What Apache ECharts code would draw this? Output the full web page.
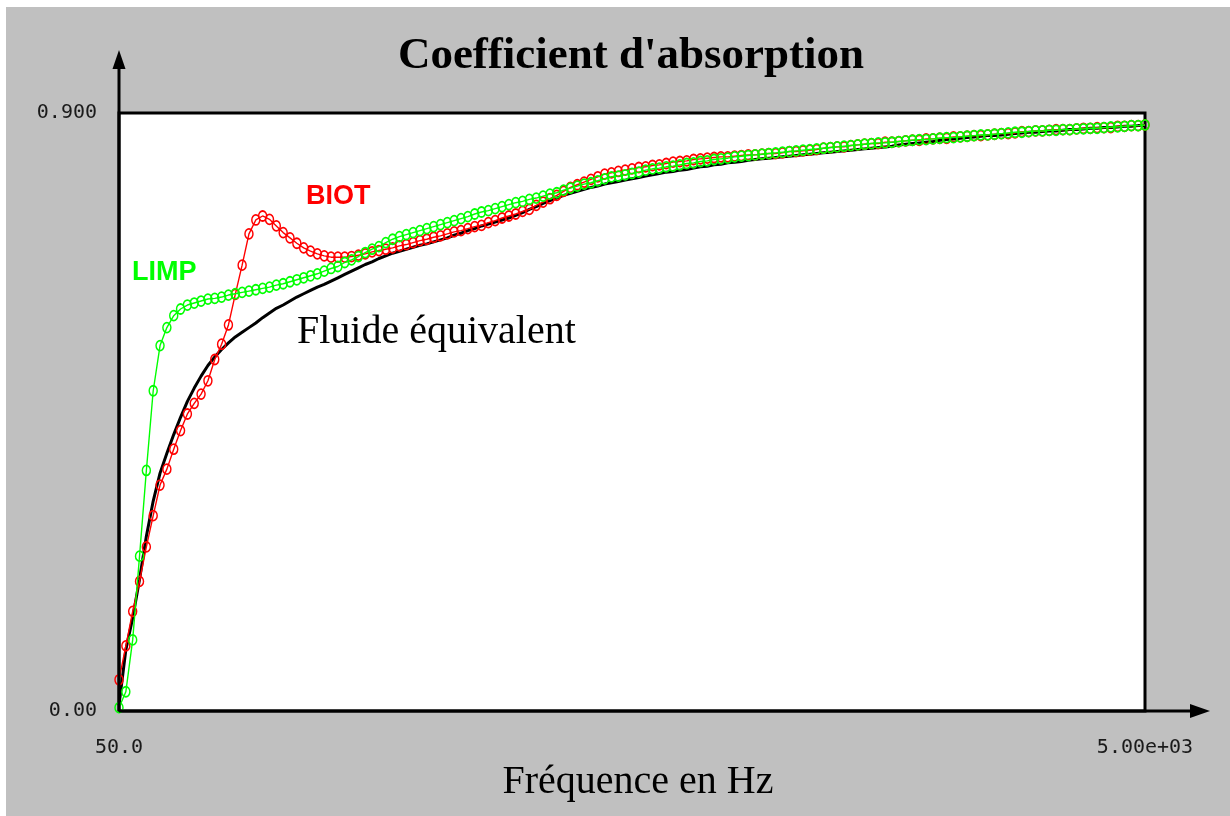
<!DOCTYPE html>
<html>
<head>
<meta charset="utf-8">
<title>Coefficient d'absorption</title>
<script src="https://cdn.jsdelivr.net/npm/echarts@6.0.0/dist/echarts.min.js"></script>
<style>
  html, body { margin: 0; padding: 0; background: #fff; }
  #chart { width: 1230px; height: 816px; }
</style>
</head>
<body>
<div id="chart"></div>
<script>
// frequency sampling of the curves (Hz)
const freqStart = 50;
const freqStep = 33;

const xTickValues = [50, 5000];
const xTickLabels = ['50.0', '5.00e+03'];
const yTickValues = [0, 0.9];
const yTickLabels = ['0.00', '0.900'];

// Fluide équivalent (black)
const fluide = [
  0.009, 0.092, 0.140, 0.198, 0.263, 0.316, 0.358, 0.388, 0.416, 0.442,
  0.466, 0.486, 0.504, 0.520, 0.533, 0.544, 0.554, 0.563, 0.570, 0.577,
  0.584, 0.592, 0.599, 0.606, 0.611, 0.617, 0.623, 0.628, 0.633, 0.638,
  0.642, 0.647, 0.652, 0.657, 0.662, 0.667, 0.672, 0.676, 0.681, 0.685,
  0.689, 0.692, 0.695, 0.698, 0.701, 0.703, 0.706, 0.709, 0.712, 0.716,
  0.719, 0.723, 0.726, 0.730, 0.733, 0.736, 0.739, 0.742, 0.746, 0.750,
  0.755, 0.759, 0.764, 0.768, 0.772, 0.776, 0.779, 0.782, 0.785, 0.788,
  0.790, 0.793, 0.795, 0.797, 0.799, 0.801, 0.803, 0.805, 0.807, 0.809,
  0.811, 0.812, 0.814, 0.815, 0.817, 0.819, 0.820, 0.822, 0.823, 0.825,
  0.826, 0.827, 0.829, 0.830, 0.831, 0.832, 0.833, 0.834, 0.835, 0.836,
  0.837, 0.838, 0.839, 0.840, 0.841, 0.842, 0.843, 0.844, 0.845, 0.846,
  0.847, 0.848, 0.849, 0.850, 0.852, 0.853, 0.854, 0.855, 0.856, 0.857,
  0.859, 0.860, 0.861, 0.862, 0.863, 0.864, 0.865, 0.866, 0.866, 0.867,
  0.868, 0.869, 0.870, 0.871, 0.871, 0.872, 0.873, 0.873, 0.874, 0.875,
  0.875, 0.876, 0.877, 0.877, 0.878, 0.878, 0.879, 0.880, 0.880, 0.881,
  0.881
];

// BIOT (red)
const biot = [
  0.047, 0.098, 0.150, 0.195, 0.247, 0.294, 0.340, 0.364, 0.394, 0.422,
  0.447, 0.463, 0.477, 0.497, 0.529, 0.552, 0.581, 0.627, 0.671, 0.718,
  0.739, 0.745, 0.740, 0.730, 0.720, 0.712, 0.704, 0.697, 0.692, 0.688,
  0.685, 0.683, 0.683, 0.683, 0.684, 0.686, 0.688, 0.691, 0.693, 0.695,
  0.697, 0.700, 0.702, 0.705, 0.708, 0.710, 0.713, 0.715, 0.718, 0.721,
  0.723, 0.726, 0.729, 0.731, 0.735, 0.738, 0.742, 0.745, 0.748, 0.752,
  0.755, 0.761, 0.766, 0.771, 0.776, 0.782, 0.788, 0.792, 0.796, 0.800,
  0.804, 0.808, 0.810, 0.812, 0.814, 0.816, 0.818, 0.819, 0.821, 0.822,
  0.824, 0.826, 0.827, 0.828, 0.830, 0.831, 0.832, 0.833, 0.834, 0.834,
  0.835, 0.836, 0.837, 0.837, 0.838, 0.839, 0.839, 0.840, 0.842, 0.842,
  0.843, 0.844, 0.845, 0.847, 0.848, 0.849, 0.849, 0.851, 0.852, 0.853,
  0.854, 0.854, 0.856, 0.856, 0.857, 0.858, 0.859, 0.859, 0.861, 0.861,
  0.862, 0.862, 0.864, 0.864, 0.865, 0.866, 0.866, 0.867, 0.868, 0.869,
  0.869, 0.870, 0.872, 0.872, 0.873, 0.873, 0.874, 0.875, 0.875, 0.875,
  0.876, 0.877, 0.877, 0.878, 0.878, 0.878, 0.880, 0.880, 0.881, 0.881,
  0.882
];

// LIMP (green)
const limp = [
  0.005, 0.029, 0.107, 0.233, 0.362, 0.482, 0.550, 0.577, 0.595, 0.605,
  0.611, 0.614, 0.617, 0.620, 0.621, 0.623, 0.626, 0.628, 0.630, 0.632,
  0.634, 0.636, 0.638, 0.641, 0.643, 0.646, 0.649, 0.652, 0.655, 0.658,
  0.662, 0.666, 0.669, 0.675, 0.679, 0.684, 0.690, 0.695, 0.699, 0.705,
  0.710, 0.714, 0.717, 0.720, 0.723, 0.726, 0.729, 0.732, 0.735, 0.738,
  0.741, 0.744, 0.748, 0.751, 0.753, 0.756, 0.759, 0.762, 0.765, 0.767,
  0.770, 0.772, 0.775, 0.778, 0.780, 0.784, 0.787, 0.790, 0.793, 0.795,
  0.798, 0.801, 0.804, 0.805, 0.807, 0.809, 0.811, 0.814, 0.816, 0.817,
  0.819, 0.820, 0.822, 0.824, 0.825, 0.827, 0.828, 0.830, 0.831, 0.832,
  0.834, 0.835, 0.836, 0.837, 0.838, 0.839, 0.840, 0.841, 0.842, 0.843,
  0.844, 0.845, 0.846, 0.847, 0.848, 0.849, 0.850, 0.851, 0.852, 0.853,
  0.854, 0.855, 0.855, 0.856, 0.857, 0.858, 0.859, 0.860, 0.860, 0.861,
  0.862, 0.863, 0.863, 0.864, 0.865, 0.866, 0.867, 0.867, 0.868, 0.869,
  0.870, 0.871, 0.871, 0.872, 0.873, 0.873, 0.874, 0.874, 0.875, 0.875,
  0.876, 0.876, 0.877, 0.877, 0.878, 0.879, 0.879, 0.880, 0.881, 0.881,
  0.882
];

function toPairs(values) {
  return values.map((v, i) => [freqStart + i * freqStep, v]);
}

const tickFont = { fontFamily: 'DejaVu Sans Mono', fontSize: 20, color: '#1a1a1a' };

let myChart = echarts.init(document.getElementById('chart'));
let option = {
  animation: false,
  backgroundColor: '#c0c0c0',
  title: {
    text: "Coefficient d'absorption",
    left: 626,
    textAlign: 'center',
    top: 29,
    textStyle: { fontFamily: 'Liberation Serif', fontWeight: 'bold', fontSize: 45, color: '#000' }
  },
  grid: {
    left: 119, right: 85, top: 113, bottom: 105,
    show: true,
    backgroundColor: '#fff',
    borderColor: '#000',
    borderWidth: 3
  },
  xAxis: {
    type: 'value',
    min: 50,
    max: 5000,
    axisLine: { show: false },
    axisTick: { show: false },
    splitLine: { show: false },
    axisLabel: Object.assign({
      customValues: xTickValues,
      formatter: v => xTickLabels[xTickValues.indexOf(v)],
      margin: 27
    }, tickFont),
    name: 'Fréquence en Hz',
    nameLocation: 'middle',
    nameGap: 46,
    nameTextStyle: { fontFamily: 'Liberation Serif', fontSize: 40, color: '#000', padding: [0, 0, 0, 12] }
  },
  yAxis: {
    type: 'value',
    min: 0,
    max: 0.9,
    axisLine: { show: false },
    axisTick: { show: false },
    splitLine: { show: false },
    axisLabel: Object.assign({
      customValues: yTickValues,
      formatter: v => yTickLabels[yTickValues.indexOf(v)],
      margin: 22
    }, tickFont)
  },
  series: [
    {
      name: 'Fluide équivalent',
      type: 'line',
      data: toPairs(fluide),
      symbol: 'none',
      silent: true,
      lineStyle: { color: '#000', width: 3 },
      z: 2
    },
    {
      name: 'BIOT',
      type: 'line',
      data: toPairs(biot),
      symbol: 'circle',
      symbolSize: [8, 10],
      silent: true,
      itemStyle: { color: 'rgba(0,0,0,0)', borderColor: '#ff0000', borderWidth: 1.6 },
      lineStyle: { color: '#ff0000', width: 1.4 },
      z: 3
    },
    {
      name: 'LIMP',
      type: 'line',
      data: toPairs(limp),
      symbol: 'circle',
      symbolSize: [8, 10],
      silent: true,
      itemStyle: { color: 'rgba(0,0,0,0)', borderColor: '#00ff00', borderWidth: 1.6 },
      lineStyle: { color: '#00ff00', width: 1.4 },
      z: 4
    }
  ],
  graphic: [
    // white margins round the grey frame
    { type: 'rect', shape: { x: 0, y: 0, width: 1230, height: 7 }, style: { fill: '#fff' }, silent: true },
    { type: 'rect', shape: { x: 0, y: 0, width: 6, height: 816 }, style: { fill: '#fff' }, silent: true },
    // axis lines with arrows
    { type: 'line', shape: { x1: 119, y1: 711, x2: 119, y2: 62 }, style: { stroke: '#000', lineWidth: 3 }, z: 10, silent: true },
    { type: 'polygon', shape: { points: [[119, 50], [112.5, 69], [125.5, 69]] }, style: { fill: '#000' }, z: 10, silent: true },
    { type: 'line', shape: { x1: 119, y1: 711, x2: 1198, y2: 711 }, style: { stroke: '#000', lineWidth: 3 }, z: 10, silent: true },
    { type: 'polygon', shape: { points: [[1210, 711], [1190, 704], [1190, 718]] }, style: { fill: '#000' }, z: 10, silent: true },
    // curve annotations
    { type: 'text', x: 306, y: 197, z: 10, silent: true,
      style: { text: 'BIOT', fill: '#ff0000', font: 'bold 27px "Liberation Sans"', verticalAlign: 'middle' } },
    { type: 'text', x: 132, y: 273, z: 10, silent: true,
      style: { text: 'LIMP', fill: '#00ff00', font: 'bold 27px "Liberation Sans"', verticalAlign: 'middle' } },
    { type: 'text', x: 297, y: 332, z: 10, silent: true,
      style: { text: 'Fluide équivalent', fill: '#000', font: '40px "Liberation Serif"', verticalAlign: 'middle' } }
  ]
};
myChart.setOption(option);
</script>
</body>
</html>
